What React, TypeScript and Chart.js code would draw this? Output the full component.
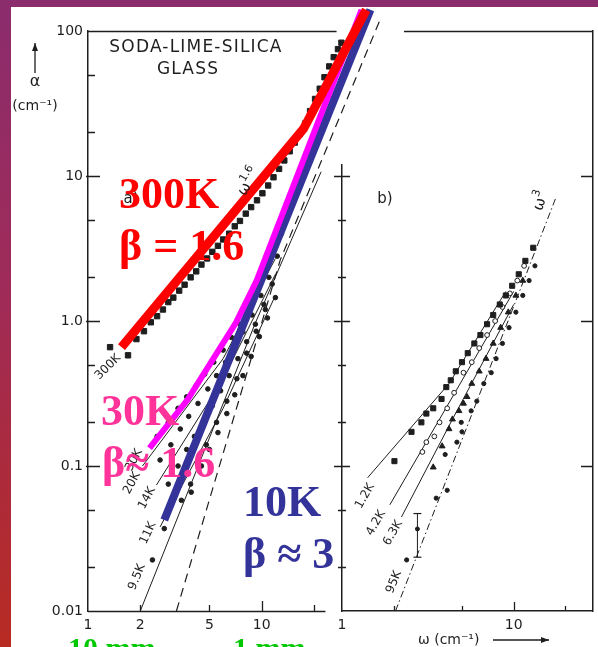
import React, { useEffect, useRef } from "react";
import { Chart, registerables } from "chart.js";

Chart.register(...registerables);

// ---------------- axis ticks ----------------
const yTickValues = [0.01, 0.02, 0.05, 0.1, 0.2, 0.5, 1, 2, 5, 10, 20, 50, 100];
const yTickLabels = ["0.01", "", "", "0.1", "", "", "1.0", "", "", "10", "", "", "100"];
const xTickValuesA = [1, 2, 5, 10, 20];
const xTickLabelsA = ["1", "2", "5", "10", ""];
const xTickValuesB = [1, 2, 5, 10, 20];
const xTickLabelsB = ["1", "", "", "10", ""];
// extent of panel a's bottom axis and the break in the shared top frame (in ω units of panel a)
const bottomEndA = 23.3;
const topGapA = [27, 66];

// ---------------- panel a) (left) ----------------
const sq300K = [
  [1.34, 0.66], [1.7, 0.58], [1.9, 0.75], [2.1, 0.85], [2.3, 0.98], [2.5, 1.08], [2.7, 1.2],
  [2.9, 1.35], [3.1, 1.45], [3.35, 1.62], [3.6, 1.78], [3.9, 2.0], [4.2, 2.2], [4.5, 2.45],
  [4.85, 2.7], [5.2, 3.0], [5.6, 3.3], [6.0, 3.65], [6.5, 4.0], [7.0, 4.5], [7.5, 4.9],
  [8.1, 5.5], [8.7, 6.1], [9.4, 6.8], [10.1, 7.6], [10.9, 8.6], [11.7, 9.8], [12.6, 11.2],
  [13.5, 12.8], [14.5, 14.8], [15.5, 17], [16.6, 19.5], [17.8, 23], [19, 28], [20.3, 34],
  [21.6, 40], [23, 48], [24.5, 57], [26, 66], [27.5, 75], [28.8, 83],
];
const dots30K = [
  [2.5, 0.16], [2.9, 0.2], [3.3, 0.25], [3.7, 0.3], [4.2, 0.36], [4.7, 0.43], [5.3, 0.52],
  [6.0, 0.63], [6.7, 0.77], [7.5, 0.95], [8.4, 1.2], [9.4, 1.6], [10.5, 2.2], [11.7, 3.0], [13, 4.0],
];
const dots20K = [
  [2.6, 0.11], [3.0, 0.14], [3.4, 0.18], [3.8, 0.22], [4.3, 0.27], [4.9, 0.34], [5.5, 0.42],
  [6.2, 0.52], [7.0, 0.66], [7.8, 0.84], [8.8, 1.1], [9.9, 1.5], [11, 2.0], [12.3, 2.8],
];
const dots14K = [
  [2.9, 0.075], [3.3, 0.1], [3.7, 0.13], [4.1, 0.16], [4.6, 0.2], [5.2, 0.26], [5.8, 0.33],
  [6.5, 0.42], [7.3, 0.55], [8.2, 0.72], [9.2, 0.95], [10.3, 1.3], [11.5, 1.8],
];
const dots11K = [
  [2.75, 0.037], [3.45, 0.058], [3.93, 0.066], [4.5, 0.1], [5.0, 0.13], [5.6, 0.17], [6.3, 0.23],
  [7.0, 0.31], [7.8, 0.42], [8.7, 0.57], [9.7, 0.78], [10.8, 1.05], [12, 1.45],
];
const dots9K5 = [
  [2.35, 0.0225], [3.9, 0.075], [4.8, 0.14], [5.5, 0.2], [6.3, 0.28], [7.2, 0.4], [8.2, 0.6],
  [9.3, 0.85], [10.5, 1.2],
];
const line20K = [[2.06, 0.1], [6.0, 0.55], [12, 2.7]];
const line14K = [[2.48, 0.074], [6.0, 0.4], [12, 2.1]];
const line11K = [[2.6, 0.038], [6.0, 0.25], [12, 1.5]];
const line9K5 = [[2.0, 0.01], [9.2, 0.97], [14.8, 3.6], [22, 10.7]];
const dashedA = [[3.23, 0.01], [7.4, 0.285], [12.8, 2.64], [48, 119]];

// overlay fits
const fit300K = [[1.56, 0.66], [17.4, 21.1], [40, 140]];
const fit30K = [[2.26, 0.133], [3.73, 0.285], [7.1, 0.97], [9.36, 1.9], [37.6, 140]];
const fit10K = [[2.75, 0.0425], [42.3, 140]];

// ---------------- panel b) (right) ----------------
const sq1K2 = [
  [2.02, 0.108], [2.54, 0.172], [2.9, 0.2], [3.1, 0.23], [3.4, 0.25], [3.8, 0.29], [4.05, 0.35],
  [4.3, 0.39], [4.6, 0.45], [5.0, 0.52], [5.4, 0.6], [5.9, 0.7], [6.4, 0.8], [7.0, 0.95],
  [7.6, 1.1], [8.3, 1.3], [9.0, 1.5], [9.8, 1.75], [10.7, 2.1], [11.7, 2.6], [13, 3.2],
];
const circ4K2 = [
  [2.94, 0.125], [3.1, 0.146], [3.45, 0.16], [3.7, 0.2], [4.1, 0.25], [4.5, 0.32], [5.1, 0.44],
  [5.7, 0.52], [6.3, 0.65], [7.0, 0.8], [7.8, 1.0], [8.6, 1.25], [9.5, 1.55], [10.5, 1.9], [11.5, 2.4],
];
const tri6K3 = [
  [3.4, 0.098], [3.83, 0.137], [4.2, 0.18], [4.4, 0.21], [4.8, 0.24], [5.1, 0.27], [5.35, 0.3],
  [5.7, 0.37], [6.3, 0.45], [6.9, 0.55], [7.6, 0.7], [8.4, 0.9], [9.3, 1.15], [10.3, 1.5], [11.3, 1.9],
];
const dots95K = [
  [2.38, 0.0225], [3.54, 0.06], [4.1, 0.068], [3.99, 0.12], [4.67, 0.146], [5.0, 0.172],
  [4.95, 0.2], [5.65, 0.24], [6.1, 0.28], [6.7, 0.37], [7.4, 0.44], [7.9, 0.55], [8.6, 0.7],
  [9.4, 0.9], [10.3, 1.15], [11.3, 1.5], [12.3, 1.9], [13.3, 2.4],
];
const errBar95K = [[2.75, 0.0235], [2.75, 0.047]];
const errMid95K = [[2.75, 0.0368]];
const line1K2 = [[1.41, 0.083], [4.2, 0.37], [9, 1.6]];
const line4K2 = [[1.9, 0.054], [10, 1.6]];
const line6K3 = [[2.22, 0.0445], [4.4, 0.21], [10, 1.3]];
const omega3 = [[2.05, 0.01], [17.7, 7.2]];

// ---------------- styles ----------------
const INK = "#1e1e1e";
const SANS = "'DejaVu Sans', sans-serif";
const SERIF = "'Liberation Serif', 'Times New Roman', serif";
const RED = "#ff0000";
const MAGENTA = "#ff00ff";
const NAVY = "#333399";
const PINK = "#ff3399";
const GREEN = "#00c800";

const X_MAX_A = Math.pow(10, 506 / 174);
const X_MAX_B = Math.pow(10, 252 / 172.5);
const Y_MAX_B = Math.pow(10, 2 - 134 / 145);

const pts = (a: number[][]) => a.map(([x, y]) => ({ x, y }));
const isDecade = (v: number) => Math.abs(Math.log10(v) - Math.round(Math.log10(v))) < 1e-9;

const lineDS = (data: number[][], color: string, width: number, order: number, dash: number[] = []) => ({
  data: pts(data), showLine: true, borderColor: color, borderWidth: width, pointRadius: 0,
  borderDash: dash, order, clip: false, tension: 0, borderCapStyle: "butt", borderJoinStyle: "round",
  xAxisID: "x", yAxisID: "y",
});
const markDS = (data: number[][], style: string, r: number, fill: string, order: number) => ({
  data: pts(data), showLine: false, pointStyle: style, pointRadius: r, pointBackgroundColor: fill,
  pointBorderColor: INK, pointBorderWidth: 1, order, clip: false, xAxisID: "x", yAxisID: "y",
});

function drawMarks(chart: any, id: string, list: number[][]) {
  const s = chart.scales[id];
  const a = chart.chartArea;
  const ctx = chart.ctx;
  ctx.save();
  ctx.strokeStyle = INK;
  ctx.lineWidth = 1.3;
  ctx.beginPath();
  for (const [v, inn, out] of list) {
    const p = Math.round(s.getPixelForValue(v)) + 0.5;
    if (s.position === "bottom") { ctx.moveTo(p, a.bottom + out); ctx.lineTo(p, a.bottom - inn); }
    else if (s.position === "left") { ctx.moveTo(a.left - out, p); ctx.lineTo(a.left + inn, p); }
    else { ctx.moveTo(a.right + out, p); ctx.lineTo(a.right - inn, p); }
  }
  ctx.stroke();
  ctx.restore();
}

function label(ctx: any, text: string, x: number, y: number, o: any = {}) {
  ctx.save();
  ctx.translate(x, y);
  if (o.angle) ctx.rotate((o.angle * Math.PI) / 180);
  ctx.font = o.font || `13px ${SANS}`;
  ctx.fillStyle = o.color || INK;
  ctx.textAlign = o.align || "center";
  ctx.textBaseline = o.baseline || "middle";
  ctx.letterSpacing = o.spacing || "0px";
  ctx.fillText(text, 0, 0);
  ctx.restore();
}

function supLabel(ctx: any, base: string, sup: string, x: number, y: number, size: number, angle: number) {
  ctx.save();
  ctx.translate(x, y);
  ctx.rotate((angle * Math.PI) / 180);
  ctx.fillStyle = INK;
  ctx.textBaseline = "middle";
  ctx.textAlign = "left";
  ctx.font = `${size}px ${SANS}`;
  const wb = ctx.measureText(base).width;
  ctx.font = `${size * 0.72}px ${SANS}`;
  const ws = ctx.measureText(sup).width;
  const x0 = -(wb + ws) / 2;
  ctx.font = `${size}px ${SANS}`;
  ctx.fillText(base, x0, 0);
  ctx.font = `${size * 0.72}px ${SANS}`;
  ctx.fillText(sup, x0 + wb, -size * 0.42);
  ctx.restore();
}

function arrow(ctx: any, x1: number, y1: number, x2: number, y2: number) {
  ctx.save();
  ctx.strokeStyle = INK;
  ctx.fillStyle = INK;
  ctx.lineWidth = 1.3;
  ctx.beginPath();
  ctx.moveTo(x1, y1);
  ctx.lineTo(x2, y2);
  ctx.stroke();
  const ang = Math.atan2(y2 - y1, x2 - x1);
  ctx.beginPath();
  ctx.moveTo(x2, y2);
  ctx.lineTo(x2 - 8 * Math.cos(ang) + 3 * Math.sin(ang), y2 - 8 * Math.sin(ang) - 3 * Math.cos(ang));
  ctx.lineTo(x2 - 8 * Math.cos(ang) - 3 * Math.sin(ang), y2 - 8 * Math.sin(ang) + 3 * Math.cos(ang));
  ctx.closePath();
  ctx.fill();
  ctx.restore();
}

const tickFont = { family: SANS, size: 14 };

function logAxis(extra: any) {
  return {
    type: "logarithmic",
    bounds: "data",
    grid: { display: false, drawTicks: false },
    border: { display: true, color: INK, width: 1.5 },
    ...extra,
  };
}

function mainConfig(): any {
  const deco = {
    id: "mainDeco",
    afterDraw(chart: any) {
      const ctx = chart.ctx;
      const a = chart.chartArea;
      const sx = chart.scales.x;
      // frame lines: bottom axis of panel a, shared top edge with its break
      ctx.save();
      ctx.strokeStyle = INK;
      ctx.lineWidth = 1.5;
      ctx.beginPath();
      ctx.moveTo(a.left, Math.round(a.bottom) + 0.5);
      ctx.lineTo(sx.getPixelForValue(bottomEndA), Math.round(a.bottom) + 0.5);
      ctx.moveTo(a.left, Math.round(a.top) + 0.5);
      ctx.lineTo(sx.getPixelForValue(topGapA[0]), Math.round(a.top) + 0.5);
      ctx.moveTo(sx.getPixelForValue(topGapA[1]), Math.round(a.top) + 0.5);
      ctx.lineTo(a.right, Math.round(a.top) + 0.5);
      ctx.stroke();
      ctx.restore();

      drawMarks(chart, "y", yTickValues.filter((v) => v > 0.01 && v < 100).map((v) => (isDecade(v) ? [v, 12, 2] : [v, 7, 0])));
      drawMarks(chart, "x", xTickValuesA.filter((v) => v > 1).map((v) => (isDecade(v) ? [v, 10, 0] : [v, 6, 0])));
      drawMarks(chart, "yR", yTickValues.filter((v) => v > 0.01 && v < 100 && isDecade(v)).map((v) => [v, 12, 0]));

      // scan texts, panel a
      label(ctx, "SODA-LIME-SILICA", 196, 48, { font: `17px ${SANS}`, spacing: "1.2px" });
      label(ctx, "GLASS", 188, 70, { font: `17px ${SANS}`, spacing: "1.2px" });
      arrow(ctx, 35, 73, 35, 43);
      label(ctx, "α", 35, 82, { font: `16px ${SANS}` });
      label(ctx, "(cm⁻¹)", 35, 106, { font: `14px ${SANS}` });
      label(ctx, "a)", 131, 199, { font: `15px ${SANS}` });
      supLabel(ctx, "ω", "1.6", 249, 182, 15, -60);
      label(ctx, "300K", 108, 367, { font: `12px ${SANS}`, angle: -45 });
      label(ctx, "30K", 134, 460, { font: `12px ${SANS}`, angle: -62 });
      label(ctx, "20K", 132, 483, { font: `12px ${SANS}`, angle: -62 });
      label(ctx, "14K", 147, 498, { font: `12px ${SANS}`, angle: -62 });
      label(ctx, "11K", 148, 533, { font: `12px ${SANS}`, angle: -65 });
      label(ctx, "9.5K", 137, 577, { font: `12px ${SANS}`, angle: -68 });

      // scan texts, panel b
      label(ctx, "b)", 385, 199, { font: `15px ${SANS}` });
      supLabel(ctx, "ω", "3", 541, 201, 15, -72);
      label(ctx, "1.2K", 365, 496, { font: `12px ${SANS}`, angle: -60 });
      label(ctx, "4.2K", 376, 523, { font: `12px ${SANS}`, angle: -60 });
      label(ctx, "6.3K", 393, 533, { font: `12px ${SANS}`, angle: -60 });
      label(ctx, "95K", 394, 582, { font: `12px ${SANS}`, angle: -68 });
      label(ctx, "ω (cm⁻¹)", 418, 640, { font: `14px ${SANS}`, align: "left" });
      arrow(ctx, 493, 640, 549, 640);

      // overlay annotations
      const big = `bold 44px ${SERIF}`;
      label(ctx, "300K", 119, 208, { font: big, color: RED, align: "left", baseline: "alphabetic" });
      label(ctx, "β = 1.6", 119, 260, { font: big, color: RED, align: "left", baseline: "alphabetic" });
      label(ctx, "30K", 101, 425, { font: big, color: PINK, align: "left", baseline: "alphabetic" });
      label(ctx, "β≈ 1.6", 102, 477, { font: big, color: PINK, align: "left", baseline: "alphabetic" });
      label(ctx, "10K", 243, 516, { font: big, color: NAVY, align: "left", baseline: "alphabetic" });
      label(ctx, "β ≈ 3", 243, 568, { font: big, color: NAVY, align: "left", baseline: "alphabetic" });
      const grn = `bold 30px ${SERIF}`;
      label(ctx, "10 mm", 68, 658, { font: grn, color: GREEN, align: "left", baseline: "alphabetic" });
      label(ctx, "1 mm", 233, 658, { font: grn, color: GREEN, align: "left", baseline: "alphabetic" });
    },
  };

  return {
    type: "scatter",
    data: {
      datasets: [
        lineDS(fit300K, RED, 9, 0),
        lineDS(fit30K, MAGENTA, 6, 1),
        lineDS(fit10K, NAVY, 8, 2),
        markDS(sq300K, "rect", 3.8, INK, 10),
        markDS(dots30K, "circle", 2.3, INK, 10),
        markDS(dots20K, "circle", 2.3, INK, 10),
        markDS(dots14K, "circle", 2.3, INK, 10),
        markDS(dots11K, "circle", 2.3, INK, 10),
        markDS(dots9K5, "circle", 2.3, INK, 10),
        lineDS(line20K, INK, 1, 11),
        lineDS(line14K, INK, 1, 11),
        lineDS(line11K, INK, 1, 11),
        lineDS(line9K5, INK, 1, 11),
        lineDS(dashedA, INK, 1.2, 11, [9, 6]),
      ],
    },
    options: {
      responsive: false,
      animation: false,
      events: [],
      layout: { padding: { left: 28, right: 4, top: 31, bottom: 6 } },
      plugins: { legend: { display: false }, tooltip: { enabled: false } },
      scales: {
        x: logAxis({
          position: "bottom", min: 1, max: X_MAX_A,
          border: { display: false },
          afterBuildTicks: (s: any) => { s.ticks = xTickValuesA.map((v) => ({ value: v })); },
          afterFit: (s: any) => { s.height = 30; },
          ticks: {
            autoSkip: false, maxRotation: 0, padding: 6, color: INK, font: tickFont,
            callback: (v: number) => xTickLabelsA[xTickValuesA.indexOf(v)] ?? "",
          },
        }),
        xT: logAxis({
          position: "top", min: 1, max: X_MAX_A,
          border: { display: false },
          afterFit: (s: any) => { s.height = 0; },
          ticks: { display: false },
        }),
        y: logAxis({
          position: "left", min: 0.01, max: 100,
          afterBuildTicks: (s: any) => { s.ticks = yTickValues.map((v) => ({ value: v })); },
          afterFit: (s: any) => { s.width = 60; },
          ticks: {
            autoSkip: false, padding: 5, color: INK, font: tickFont,
            callback: (v: number) => yTickLabels[yTickValues.indexOf(v)] ?? "",
          },
        }),
        yR: logAxis({
          position: "right", min: 0.01, max: 100,
          afterFit: (s: any) => { s.width = 0; },
          ticks: { display: false },
        }),
      },
    },
    plugins: [deco],
  };
}

function rightConfig(): any {
  const deco = {
    id: "rightDeco",
    afterDraw(chart: any) {
      drawMarks(chart, "y", yTickValues.filter((v) => v > 0.01 && v <= 10).map((v) => (isDecade(v) ? [v, 8, 8] : [v, 4, 4])));
      drawMarks(chart, "x", xTickValuesB.filter((v) => v > 1).map((v) => (isDecade(v) ? [v, 9, 0] : [v, 5, 0])));
    },
  };
  return {
    type: "scatter",
    data: {
      datasets: [
        markDS(sq1K2, "rect", 3.6, INK, 1),
        markDS(circ4K2, "circle", 2.4, "#ffffff", 1),
        markDS(tri6K3, "triangle", 3.4, INK, 1),
        markDS(dots95K, "circle", 2.1, INK, 1),
        markDS(errMid95K, "circle", 2.0, INK, 1),
        { ...lineDS(errBar95K, INK, 1, 2), pointStyle: "line", pointRadius: 4, pointBorderColor: INK, pointBorderWidth: 1.2 },
        lineDS(line1K2, INK, 1, 3),
        lineDS(line4K2, INK, 1, 3),
        lineDS(line6K3, INK, 1, 3),
        lineDS(omega3, INK, 1, 3, [7, 3, 1.5, 3]),
      ],
    },
    options: {
      responsive: false,
      animation: false,
      events: [],
      layout: { padding: { left: 2, right: 4, top: 25, bottom: 6 } },
      plugins: { legend: { display: false }, tooltip: { enabled: false } },
      scales: {
        x: logAxis({
          position: "bottom", min: 1, max: X_MAX_B,
          afterBuildTicks: (s: any) => { s.ticks = xTickValuesB.map((v) => ({ value: v })); },
          afterFit: (s: any) => { s.height = 30; },
          ticks: {
            autoSkip: false, maxRotation: 0, padding: 6, color: INK, font: tickFont,
            callback: (v: number) => xTickLabelsB[xTickValuesB.indexOf(v)] ?? "",
          },
        }),
        y: logAxis({
          position: "left", min: 0.01, max: Y_MAX_B,
          afterFit: (s: any) => { s.width = 40; },
          ticks: { display: false },
        }),
      },
    },
    plugins: [deco],
  };
}

export default function App() {
  const mainRef = useRef<HTMLCanvasElement>(null);
  const rightRef = useRef<HTMLCanvasElement>(null);
  useEffect(() => {
    const right = new Chart(rightRef.current as HTMLCanvasElement, rightConfig());
    const main = new Chart(mainRef.current as HTMLCanvasElement, mainConfig());
    return () => {
      main.destroy();
      right.destroy();
    };
  }, []);
  return (
    <div
      style={{
        position: "fixed", left: 0, top: 0, width: 598, height: 647, overflow: "hidden",
        background: "linear-gradient(to bottom, #8b2c6d 0%, #9f2b58 45%, #b82b22 100%)",
      }}
    >
      <div style={{ position: "absolute", left: 11, top: 7, right: 0, bottom: 0, background: "#ffffff" }} />
      <canvas ref={rightRef} width={298} height={507} style={{ position: "absolute", left: 300, top: 140 }} />
      <canvas ref={mainRef} width={598} height={647} style={{ position: "absolute", left: 0, top: 0 }} />
    </div>
  );
}
